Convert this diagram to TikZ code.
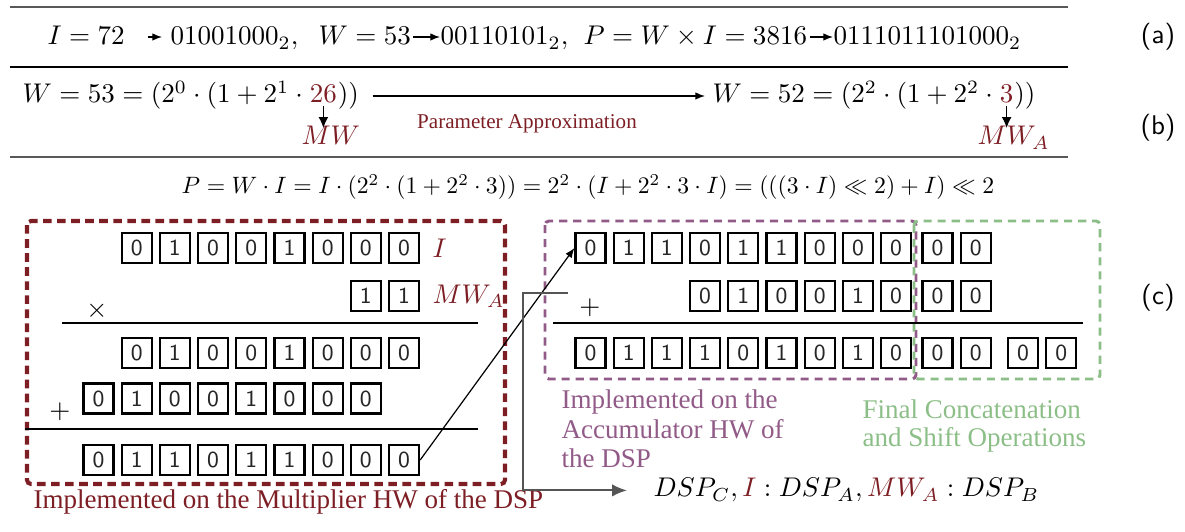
\documentclass[tikz,border=0pt]{standalone}
\usepackage{fontspec}
\usepackage{amsmath,amssymb,graphicx}
\newfontfamily\lbfont{Liberation Serif}
\usetikzlibrary{arrows.meta,calc}
\definecolor{dspred}{HTML}{7D1E24}
\definecolor{accpurple}{HTML}{915A87}
\definecolor{catgreen}{HTML}{8CBE87}
\definecolor{wiregray}{HTML}{555555}

% one row of bit cells: name prefix, centre x of the first cell, centre y, bits
\newcommand\bitrow[4]{%
  \foreach \b [count=\k] in {#4} {\node[bit] (#1-\k) at ({#2+(\k-1)*38.2},#3) {\b};}}

\begin{document}
\begin{tikzpicture}[x=0.37pt,y=-0.37pt,
  txt/.style={inner sep=0pt,anchor=base west},
  lbl/.style={inner sep=0pt,anchor=base west,font=\lbfont\fontsize{10}{11}\selectfont},
  tag/.style={inner sep=0pt,font=\sffamily\fontsize{10}{12}\selectfont},
  bit/.style={draw,line width=0.8pt,minimum size=11.1pt,inner sep=0pt,
    font=\sffamily\fontsize{8.5}{9}\selectfont,text=black!85},
  arr/.style={-{Latex[length=3.6pt,width=2.8pt]},line width=0.45pt},
  downarr/.style={-{Latex[length=4pt,width=3.6pt]},line width=0.45pt},
  wire/.style={-{Latex[length=5.5pt,width=4.6pt]},line width=0.8pt,draw=wiregray},
  heavyrule/.style={line width=0.8pt,draw=black!65},
  lightrule/.style={line width=0.45pt},
  sumrule/.style={line width=0.45pt},
  multbox/.style={draw=dspred,line width=1.5pt,dash pattern=on 3.2pt off 2pt,rounded corners=1.5pt},
  accbox/.style={draw=accpurple,line width=1.1pt,dash pattern=on 3pt off 2.2pt,rounded corners=1.5pt},
  catbox/.style={draw=catgreen,line width=1.1pt,dash pattern=on 3pt off 2.2pt,rounded corners=1.5pt}]
\useasboundingbox (0,0) rectangle (1185,532);

% table rules
\draw[heavyrule] (10,7) -- (1068,7);
\draw[lightrule] (10,67) -- (1068,67);
\draw[heavyrule] (10,157) -- (1068,157);

% (a) binary representations
\node[txt] (ia) at (47,45) {$I = 72$};
\node[txt] (ba) at (170,45) {$01001000_2,$};
\node[txt] (wa) at (318,45) {$W = 53$};
\node[txt] (bw) at (440,45) {$00110101_2,$};
\node[txt] (pa) at (583,45) {$P = W \times I = 3816$};
\node[txt] (bp) at (833,45) {$0111011101000_2$};
\draw[arr] ($(ia.base east)+(23,-8)$) -- ($(ba.base west)+(-8,-8)$);
\draw[arr] ($(wa.base east)+(2,-8)$) -- ($(bw.base west)+(0,-8)$);
\draw[arr] ($(pa.base east)+(2,-8)$) -- ($(bp.base west)+(0,-8)$);
\node[tag] (ta) at (1158,37) {(a)};

% (b) parameter approximation
\node[txt] (b1) at (22,103) {$W = 53 = (2^0\cdot(1+2^1\cdot{}$};
\node[txt,text=dspred] (n26) at (b1.base east) {$26$};
\node[txt] (b1r) at (n26.base east) {$))$};
\node[txt] (b2) at (712,103) {$W = 52 = (2^2\cdot(1+2^2\cdot{}$};
\node[txt,text=dspred] (n3) at (b2.base east) {$3$};
\node[txt] (b2r) at (n3.base east) {$))$};
\draw[arr] ($(b1r.base east)+(13,-7)$) -- ($(b2.base west)+(-7,-7)$);
\node[inner sep=0pt,anchor=base,text=dspred,font=\lbfont\fontsize{7.8}{9}\selectfont] (pal) at (527,129) {Parameter Approximation};
\node[txt,text=dspred] (mw) at (301,145) {$MW$};
\node[txt,text=dspred] (mwa) at (977,145) {$MW_A$};
\draw[downarr] ($(n26.south)+(0,2)$) -- ($(n26.south |- mw.north)+(0,2)$);
\draw[downarr] ($(n3.south)+(0,2)$) -- ($(n3.south |- mwa.north)+(0,2)$);
\node[tag] (tb) at (1158,128) {(b)};

% decomposition of the product
\node[inner sep=0pt,anchor=base] (eq) at (588,194)
  {\scalebox{0.876}{$P = W\cdot I = I\cdot(2^2\cdot(1+2^2\cdot 3)) = 2^2\cdot(I+2^2\cdot 3\cdot I) = (((3\cdot I)\ll 2)+I)\ll 2$}};

% (c) multiplier part
\draw[multbox] (27,221) rectangle (505,484);
\bitrow{la}{136.7}{248}{0,1,0,0,1,0,0,0}
\bitrow{lb}{365.9}{296}{1,1}
\node[inner sep=0pt,anchor=west,text=dspred] (il) at (432,248) {$I$};
\node[inner sep=0pt,anchor=west,text=dspred] (mwl) at (432,296) {$MW_A$};
\node[inner sep=0pt] (times) at (97,311) {$\times$};
\draw[sumrule] (62,323) -- (478,323);
\bitrow{lc}{136.7}{353}{0,1,0,0,1,0,0,0}
\bitrow{ld}{98.5}{398.5}{0,1,0,0,1,0,0,0}
\node[inner sep=0pt] (plusl) at (60,412) {$+$};
\draw[sumrule] (25,429) -- (478,429);
\bitrow{le}{98.5}{460}{0,1,1,0,1,1,0,0,0}
\node[lbl,text=dspred] (multlbl) at (33,509) {Implemented on the Multiplier HW of the DSP};

% (c) accumulator part and final shift
\draw[accbox] (545,221) rectangle (916,379);
\draw[catbox] (914,221) rectangle (1100,379);
\bitrow{ra}{590.5}{248}{0,1,1,0,1,1,0,0,0}
\bitrow{rat}{937.5}{248}{0,0}
\bitrow{rb}{705.1}{296}{0,1,0,0,1,0}
\bitrow{rbt}{937.5}{296}{0,0}
\node[inner sep=0pt] (plusr) at (590,308) {$+$};
\draw[sumrule] (553,323) -- (1083,323);
\bitrow{rc}{590.5}{353}{0,1,1,1,0,1,0,1,0}
\bitrow{rct}{937.5}{353}{0,0}
\bitrow{rcs}{1023}{353}{0,0}

\node[lbl,text=accpurple] (acc1) at (561,409) {Implemented on the};
\node[lbl,text=accpurple] (acc2) at (561,439) {Accumulator HW of};
\node[lbl,text=accpurple] (acc3) at (561,468) {the DSP};
\node[lbl,text=catgreen] (cat1) at (862,419) {Final Concatenation};
\node[lbl,text=catgreen] (cat2) at (862,447) {and Shift Operations};
\node[tag] (tc) at (1158,298) {(c)};

% multiplier output feeds the accumulator
\draw[arr] (le-9.east) -- (ra-1.west);

% DSP port assignment
\node[txt] (dsp) at (653,497)
  {$DSP_C, \textcolor{dspred}{I}: DSP_A, \textcolor{dspred}{MW_A}: DSP_B$};
\coordinate (cin) at (568,293);
\coordinate (ccorner) at (523,293);
\draw[wire] (cin) -- (ccorner) |- ($(dsp.west)+(-26,0)$);
\end{tikzpicture}
\end{document}
